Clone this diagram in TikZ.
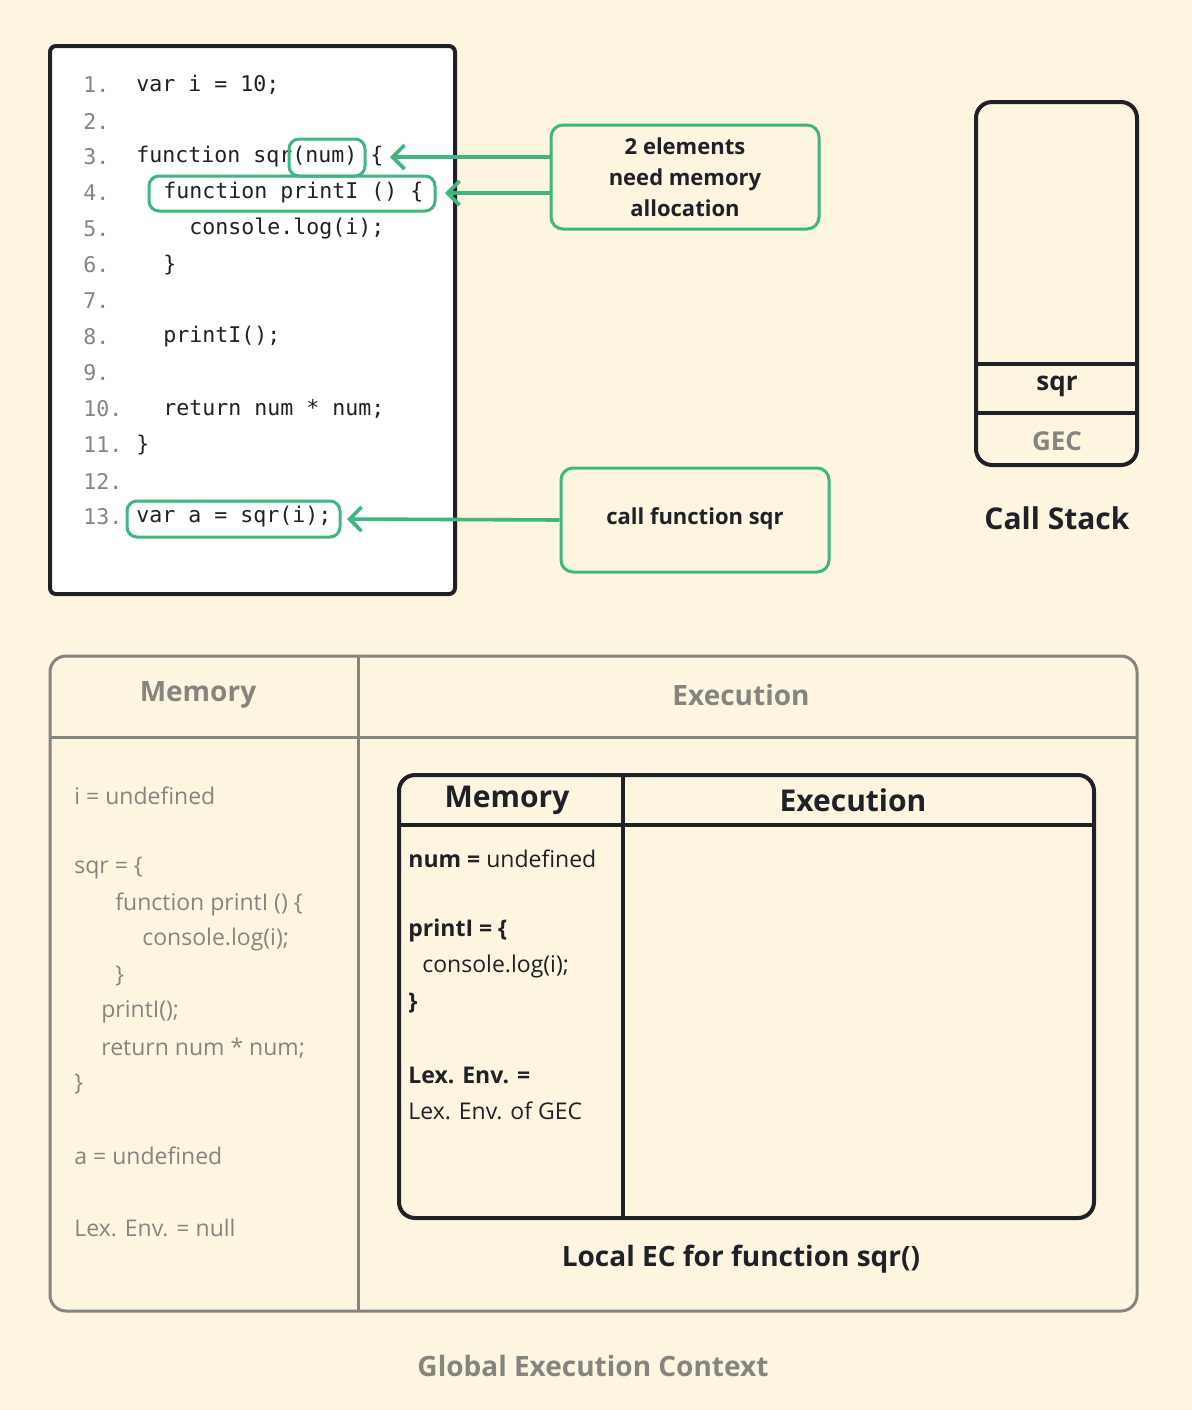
\documentclass[tikz,border=0pt]{standalone}
\usepackage{fontspec}
\setmainfont{Open Sans}[BoldFont={Open Sans Bold}]
\newfontfamily\codef{DejaVu Sans Mono}
\usetikzlibrary{arrows.meta}
\definecolor{bg}{HTML}{FDF5E0}
\definecolor{grn}{HTML}{3DB67F}
\definecolor{dk}{HTML}{1E2128}
\definecolor{gr}{HTML}{858580}
\begin{document}
\begin{tikzpicture}[x=0.5pt,y=-0.5pt,
  code/.style={anchor=west,font=\codef\fontsize{10.8}{12}\selectfont,text=dk,inner sep=0},
  num/.style={anchor=west,font=\codef\fontsize{10.8}{12}\selectfont,text=gr,inner sep=0},
  hl/.style={draw=grn,line width=1.5pt,rounded corners=5pt},
  callout/.style={draw=grn,line width=1.5pt,rounded corners=6pt,fill=bg},
  ctext/.style={font=\bfseries\fontsize{11}{15.5}\selectfont,text=dk,align=center},
  arr/.style={grn,line width=1.8pt,-{Straight Barb[length=6pt,width=12pt,line width=1.8pt]}},
  gmem/.style={anchor=west,font=\fontsize{11.5}{13}\selectfont,text=gr,inner sep=0},
  imem/.style={anchor=west,font=\fontsize{11.5}{13}\selectfont,text=dk,inner sep=0},
  hdr/.style={font=\bfseries\fontsize{14}{16}\selectfont,text=gr},
  ihdr/.style={font=\bfseries\fontsize{15}{17}\selectfont,text=dk}]
\fill[bg] (0,0) rectangle (1192,1410);
\useasboundingbox (0,0) rectangle (1192,1410);
% code box
\draw[dk,line width=2pt,rounded corners=3pt,fill=white] (50,46) rectangle (455,594);
\foreach \n in {1,...,13}{\node[num] at (83,{85+(\n-1)*36}) {\n.};}
\node[code] at (136,85) {var i = 10;};
\node[code] at (136,157) {function sqr(num) \{};
\node[code] at (163,193) {function printI () \{};
\node[code] at (189,229) {console.log(i);};
\node[code] at (163,265) {\}};
\node[code] at (163,337) {printI();};
\node[code] at (163,409) {return num * num;};
\node[code] at (136,445) {\}};
\node[code] at (136,517) {var a = sqr(i);};
\draw[hl] (289,139) rectangle (365,176);
\draw[hl] (149,176) rectangle (435,211);
\draw[hl] (127,501) rectangle (340,537);
% callouts
\node[callout,minimum width=134pt,minimum height=52pt] (c1) at (685,177) {};
\node[ctext] at (685,177) {2 elements\\need memory\\allocation};
\coordinate (a1) at (390,157);
\coordinate (a2) at (445,193);
\draw[arr] (551,157) -- (a1);
\draw[arr] (551,193) -- (a2);
\node[callout,minimum width=134pt,minimum height=52pt] (c2) at (695,520) {};
\node[ctext] at (695,519) {call function sqr};
\coordinate (a3) at (347,519);
\draw[arr] (c2.west) -- (a3);
% call stack
\draw[dk,line width=2pt,rounded corners=8pt,fill=bg] (976,102) rectangle (1137,465);
\draw[dk,line width=2pt] (976,364) -- (1137,364) (976,413) -- (1137,413);
\node[font=\bfseries\fontsize{13}{15}\selectfont,text=dk] at (1057,386) {sqr};
\node[font=\bfseries\fontsize{13}{15}\selectfont,text=gr] at (1057,441) {GEC};
\node[font=\bfseries\fontsize{15}{17}\selectfont,text=dk] at (1057,518) {Call Stack};
% GEC
\draw[gr,line width=1.5pt,rounded corners=8pt] (50,656) rectangle (1137,1311);
\draw[gr,line width=1.5pt] (358,656) -- (358,1311) (50,737) -- (1137,737);
\node[hdr] at (198,695) {Memory};
\node[hdr] at (741,695) {Execution};
\node[gmem] at (74,796) {i = undefined};
\node[gmem] at (74,868) {sqr = \{};
\node[gmem] at (115,904) {function printI () \{};
\node[gmem] at (142,940) {console.log(i);};
\node[gmem] at (115,976) {\}};
\node[gmem] at (101,1012) {printI();};
\node[gmem] at (101,1048) {return num * num;};
\node[gmem] at (74,1084) {\}};
\node[gmem] at (74,1156) {a = undefined};
\node[gmem] at (74,1228) {Lex. Env. = null};
% inner
\draw[dk,line width=2pt,rounded corners=8pt] (399,775) rectangle (1094,1218);
\draw[dk,line width=2pt] (623,775) -- (623,1218) (399,825) -- (1094,825);
\node[ihdr] at (507,800) {Memory};
\node[ihdr] at (853,800) {Execution};
\node[imem] at (408,859) {\textbf{num =} undefined};
\node[imem] at (408,931) {\textbf{printI = \{}};
\node[imem] at (422,967) {console.log(i);};
\node[imem] at (408,1003) {\textbf{\}}};
\node[imem] at (408,1075) {\textbf{Lex. Env. =}};
\node[imem] at (408,1111) {Lex. Env. of GEC};
\node[font=\bfseries\fontsize{14}{16}\selectfont,text=dk] at (741,1259) {Local EC for function sqr()};
\node[font=\bfseries\fontsize{14}{16}\selectfont,text=gr] at (593,1366) {Global Execution Context};
\end{tikzpicture}
\end{document}
